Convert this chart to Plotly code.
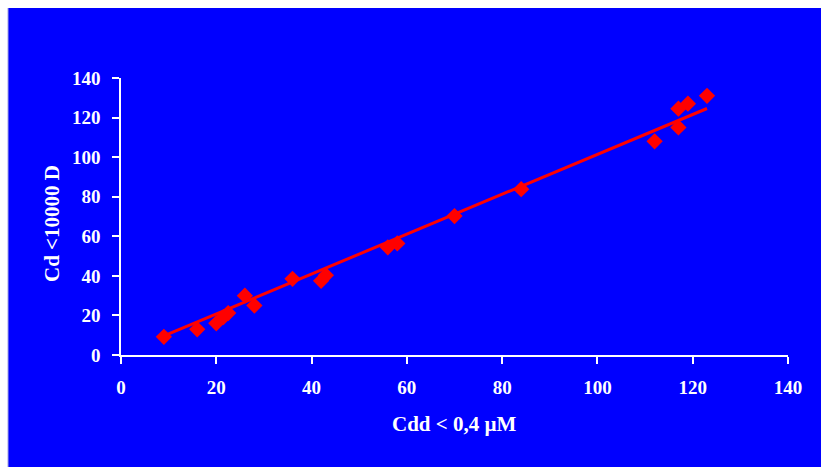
import plotly.graph_objects as go

# Measured pairs
cdd = [9, 16, 20, 21.5, 22.5, 26, 28, 36, 42, 43, 56, 58, 70, 84, 112, 117, 117, 119, 123]
cd = [9.2, 13, 16, 19.2, 21.2, 30, 25, 38.5, 37.5, 40.3, 54.4, 56.4, 70.2, 83.8, 108, 115, 124.5, 127, 131]

x_ticks = [0, 20, 40, 60, 80, 100, 120, 140]
y_ticks = [0, 20, 40, 60, 80, 100, 120, 140]
x_title = "Cdd < 0,4 µM"
y_title = "Cd <10000 D"

# Linear trend line coefficients
trend_slope = 1.008
trend_intercept = 0.6
line_x = [min(cdd), max(cdd)]
line_y = [trend_slope * v + trend_intercept for v in line_x]

BLUE = "#0000FF"
FAMILY = "Liberation Serif, Times New Roman, serif"
TICK_FONT = dict(family=FAMILY, color="white", size=19, weight="bold")
TITLE_FONT = dict(family=FAMILY, color="white", size=21, weight="bold")

W, H = 821, 467
ML, MR, MT, MB = 121, 33, 78, 112
pw, ph = W - ML - MR, H - MT - MB

fig = go.Figure()
fig.add_trace(go.Scatter(
    x=line_x, y=line_y, mode="lines",
    line=dict(color="#FF0000", width=3), hoverinfo="skip", showlegend=False,
))
fig.add_trace(go.Scatter(
    x=cdd, y=cd, mode="markers",
    marker=dict(symbol="diamond", size=12.5, color="#FF0000", line=dict(width=0)),
    showlegend=False,
))

# blue panel covering the figure with a thin white border top/left
fig.add_shape(
    type="rect", xref="paper", yref="paper",
    x0=(8 - ML) / pw, x1=(W - ML) / pw + 0.01,
    y0=-(MB + 2) / ph, y1=1 + (MT - 8) / ph,
    fillcolor=BLUE, line=dict(width=0), layer="below",
)
fig.add_shape(
    type="line", xref="paper", yref="paper",
    x0=(8 - ML) / pw, x1=(8 - ML) / pw,
    y0=-(MB + 2) / ph, y1=1 + (MT - 8) / ph,
    line=dict(color="#A0A0E0", width=1), layer="below",
)

axis_common = dict(
    showgrid=False, zeroline=False, showline=True, linecolor="white", linewidth=1.5,
    ticks="outside", ticklen=7, tickcolor="white", tickwidth=1.5,
    tickfont=TICK_FONT, fixedrange=True,
)
fig.update_xaxes(range=[0, 140], tickvals=x_ticks, ticktext=[str(v) for v in x_ticks],
                 ticklabelstandoff=7, **axis_common)
fig.update_yaxes(range=[0, 140], tickvals=y_ticks, ticktext=[str(v) for v in y_ticks],
                 ticklabelstandoff=8, **axis_common)

fig.add_annotation(text=x_title, xref="paper", yref="paper",
                   x=0.5, y=-(424 - (H - MB)) / ph, showarrow=False,
                   font=TITLE_FONT, xanchor="center", yanchor="middle")
fig.add_annotation(text=y_title, xref="paper", yref="paper",
                   x=-(ML - 52) / pw, y=1 - (224 - MT) / ph, showarrow=False, textangle=-90,
                   font=TITLE_FONT, xanchor="center", yanchor="middle")

fig.update_layout(
    width=W, height=H, margin=dict(l=ML, r=MR, t=MT, b=MB),
    paper_bgcolor="white", plot_bgcolor=BLUE,
    font=TICK_FONT,
)

fig.write_html("out.html")
